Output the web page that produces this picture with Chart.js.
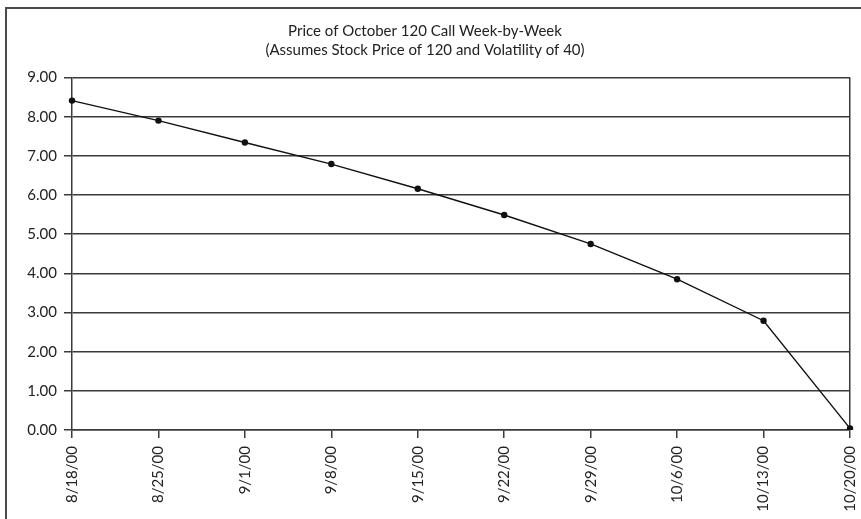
<!DOCTYPE html>
<html>
<head>
<meta charset="utf-8">
<script src="https://cdn.jsdelivr.net/npm/chart.js@4/dist/chart.umd.min.js"></script>
<style>
  html, body { margin: 0; padding: 0; background: #fff; }
  #wrap { width: 861px; height: 519px; position: relative; }
</style>
</head>
<body>
<div id="wrap"><canvas id="c" width="861" height="519"></canvas></div>
<script>
const categories = ["8/18/00","8/25/00","9/1/00","9/8/00","9/15/00","9/22/00","9/29/00","10/6/00","10/13/00","10/20/00"];
const callPrices = [8.41, 7.90, 7.34, 6.79, 6.16, 5.49, 4.75, 3.85, 2.79, 0.04];
const titleLines = ["Price of October 120 Call Week-by-Week", "(Assumes Stock Price of 120 and Volatility of 40)"];
const yTickMin = 0, yTickMax = 9, yTickStep = 1;

const FONT = "Lato, 'Liberation Sans', sans-serif";
const DARK = "#3a3a3a";

const frame = {
  id: 'frame',
  afterDraw(chart) {
    const ctx = chart.ctx;
    ctx.save();
    ctx.strokeStyle = "#4a4a4a";
    ctx.lineWidth = 2;
    ctx.beginPath();
    ctx.moveTo(6, 519);
    ctx.lineTo(6, 8);
    ctx.lineTo(861, 8);
    ctx.stroke();
    ctx.restore();
  }
};

new Chart(document.getElementById('c'), {
  type: 'line',
  data: {
    labels: categories,
    datasets: [{
      data: callPrices,
      borderColor: '#111',
      borderWidth: 1.4,
      backgroundColor: '#111',
      pointBackgroundColor: '#111',
      pointBorderColor: '#111',
      pointRadius: 3.2,
      pointBorderWidth: 0,
      tension: 0,
      fill: false
    }]
  },
  options: {
    responsive: false,
    animation: false,
    events: [],
    layout: { padding: { left: 0, right: 11, top: 0, bottom: 0 } },
    plugins: {
      legend: { display: false },
      tooltip: { enabled: false },
      title: {
        display: true,
        text: titleLines,
        color: '#222',
        font: { family: FONT, size: 15, weight: 'normal', lineHeight: 1.25 },
        padding: { top: 22, bottom: 18 }
      }
    },
    scales: {
      x: {
        offset: false,
        afterFit(scale) { scale.height = 89; scale.paddingLeft = 0; scale.paddingRight = 0; },
        border: { display: true, color: DARK, width: 1.5 },
        grid: {
          display: true,
          drawOnChartArea: true,
          drawTicks: true,
          tickLength: 8,
          lineWidth: 1.5,
          color: (c) => c.index === categories.length - 1 ? DARK : 'rgba(0,0,0,0)',
          tickColor: DARK
        },
        ticks: {
          color: '#222',
          font: { family: FONT, size: 15 },
          minRotation: 90,
          maxRotation: 90,
          padding: 8,
          autoSkip: false
        }
      },
      y: {
        min: yTickMin,
        max: yTickMax,
        afterFit(scale) { scale.width = 72; },
        border: { display: true, color: DARK, width: 1.5 },
        grid: {
          display: true,
          drawOnChartArea: true,
          drawTicks: true,
          tickLength: 8,
          lineWidth: 1.5,
          color: DARK,
          tickColor: DARK
        },
        ticks: {
          stepSize: yTickStep,
          color: '#222',
          font: { family: FONT, size: 15 },
          padding: 7,
          callback: (v) => Number(v).toFixed(2)
        }
      }
    }
  },
  plugins: [frame]
});
</script>
</body>
</html>
